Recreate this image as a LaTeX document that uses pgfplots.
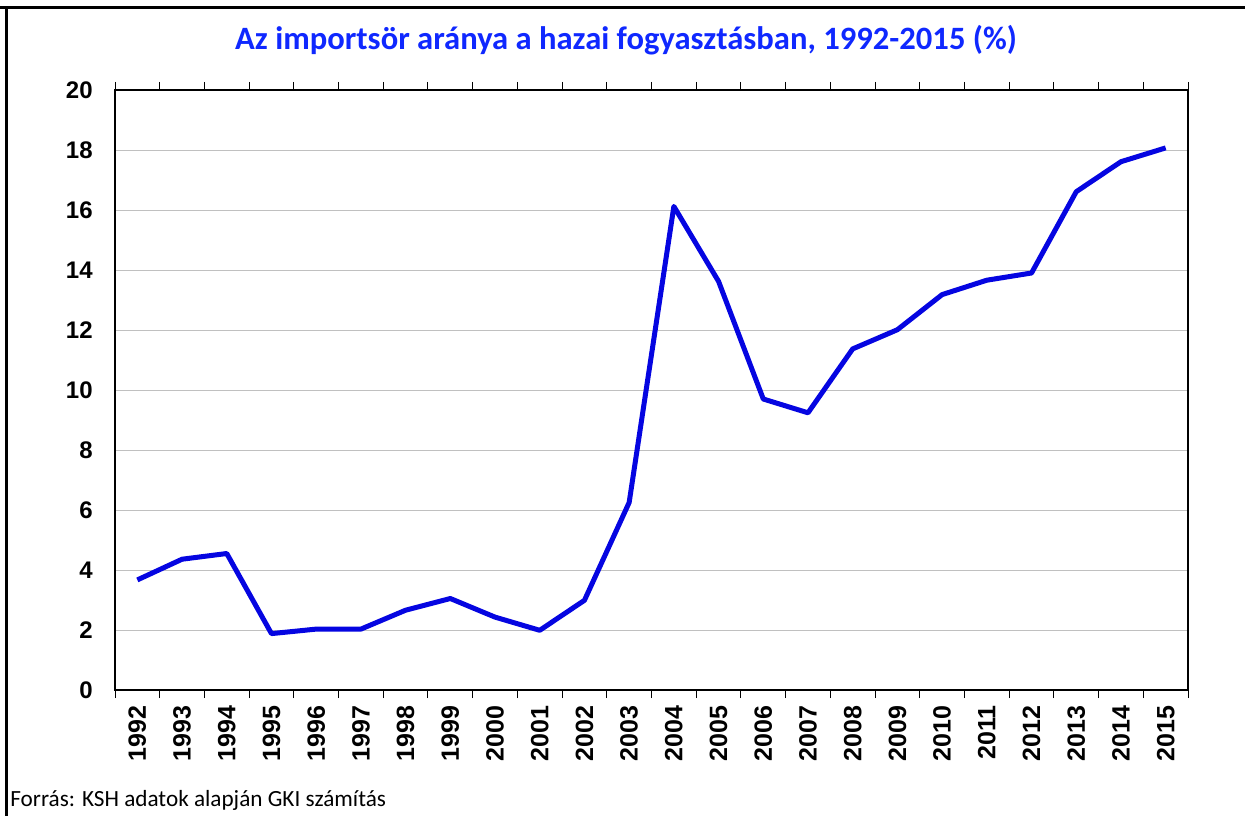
\documentclass[border=0pt]{standalone}
\usepackage{fontspec}
\usepackage{pgfplots}
\pgfplotsset{compat=1.18}
\setmainfont{Carlito}
\newfontfamily\arial{Liberation Sans}
\definecolor{titleblue}{RGB}{15,40,255}
\definecolor{lineblue}{RGB}{5,5,225}
\definecolor{gridgray}{RGB}{192,192,192}
\begin{document}
\begin{tikzpicture}
\useasboundingbox (0,0) rectangle (622.5pt,408pt);
\draw[line width=1.5pt] (0,404pt) -- (622.5pt,404pt);
\draw[line width=1.5pt] (3.25pt,404.75pt) -- (3.25pt,0);
\node[anchor=base, font=\bfseries\fontsize{16.3}{16.3}\selectfont, text=titleblue, inner sep=0pt] at (313pt,383pt) {Az importsör aránya a hazai fogyasztásban, 1992-2015 (\%)};
\node[anchor=base west, font=\fontsize{11.6}{11.6}\selectfont, inner sep=0pt] at (5pt,5pt) {Forrás: KSH adatok alapján GKI számítás};
\begin{axis}[
  at={(57.5pt,63pt)}, anchor=south west,
  scale only axis, width=536.5pt, height=300pt,
  xmin=-0.5, xmax=23.5, ymin=0, ymax=20,
  xtick={0,...,23},
  xticklabels={1992,1993,1994,1995,1996,1997,1998,1999,2000,2001,2002,2003,2004,2005,2006,2007,2008,2009,2010,2011,2012,2013,2014,2015},
  minor xtick={-0.5,0.5,...,23.5},
  ytick={0,2,...,20},
  tick align=outside,
  major tick length=0pt,
  minor tick length=4pt,
  xminorgrids=false,
  ymajorgrids=true,
  grid style={gridgray, line width=0.5pt},
  axis line style={black, line width=0.6pt},
  every tick/.style={black, line width=0.5pt},
  /pgf/number format/assume math mode=true,
  ticklabel style={font=\arial\bfseries\fontsize{12}{12}\selectfont, inner sep=0pt},
  xticklabel style={rotate=90, anchor=east, font=\arial\bfseries\fontsize{12.5}{12.5}\selectfont},
  yticklabel style={anchor=east},
  xticklabel shift=7.5pt,
  yticklabel shift=11pt,
]
\addplot[lineblue, line width=2.5pt, line join=round, mark=none] coordinates {
(0,3.67) (1,4.36) (2,4.55) (3,1.88) (4,2.03) (5,2.03) (6,2.66) (7,3.05) (8,2.43) (9,1.99) (10,2.99) (11,6.25) (12,16.12) (13,13.62) (14,9.70) (15,9.24) (16,11.37) (17,12.01) (18,13.18) (19,13.66) (20,13.90) (21,16.61) (22,17.61) (23,18.07)
};
\end{axis}
\end{tikzpicture}
\end{document}
